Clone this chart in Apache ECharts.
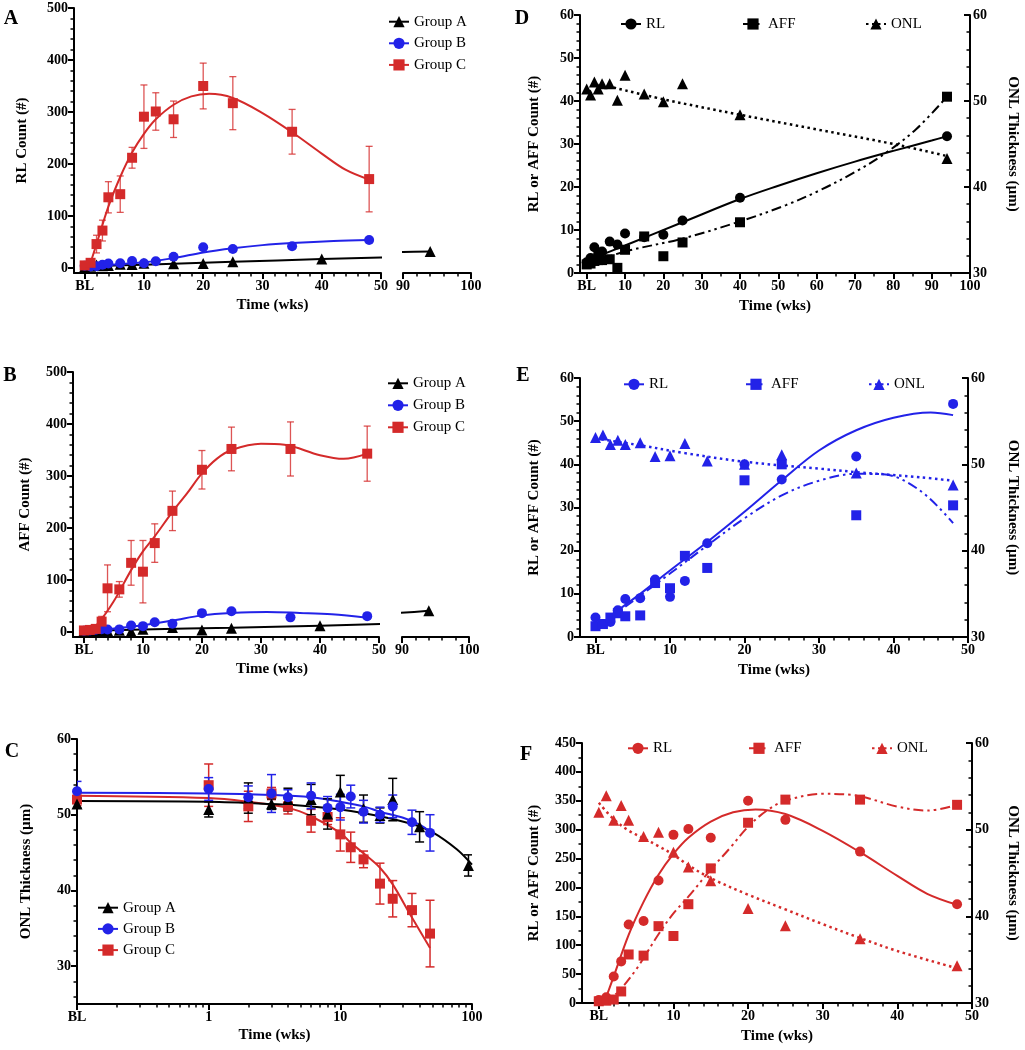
<!DOCTYPE html>
<html><head><meta charset="utf-8">
<script src="https://cdn.jsdelivr.net/npm/echarts@6/dist/echarts.min.js"></script>
<style>html,body{margin:0;padding:0;background:#fff}#c{width:1025px;height:1050px}</style>
</head><body><div id="c"></div>
<script>
// ---------------- DATA ----------------
const timesBC = [0, 1, 2, 3, 4, 6, 8, 10, 12, 15, 20, 25, 35, 48];
const timesA  = [0, 1, 2, 3, 4, 6, 8, 10, 15, 20, 25, 40, 94];
const BL_LOG = 0.1; // baseline position on the log axis

// Group A (black)
const rlA     = [2.5, 3.5, 6.0, 4.5, 5.0, 7.3, 6.6, 9.2, 8.3, 8.9, 12.2, 17.5, 31.8];
const affA    = [2.0, 2.2, 2.8, 3.0, 3.0, 3.2, 1.2, 5.4, 8.5, 3.9, 7.1, 11.8, 41.0];
const onlA    = [51.4, 50.7, 52.2, 51.4, 52.0, 52.0, 50.1, 53.0, 50.8, 49.9, 52.0, 48.4, 43.3];
const onlAErr = [0.5, 1.0, 2.0, 0.7, 1.5, 2.0, 2.0, 2.2, 1.8, 1.0, 2.8, 2.0, 1.4];
// Group B (blue)
const rlB     = [4.5, 3.0, 3.5, 6.2, 8.8, 9.0, 13.3, 9.3, 13.0, 21.7, 40.0, 36.5, 41.8, 54.0];
const affB    = [2.5, 3.0, 4.5, 5.5, 4.8, 5.0, 12.5, 11.3, 18.8, 16.0, 36.3, 40.0, 28.2, 30.5];
const onlB    = [53.1, 53.4, 52.3, 52.8, 52.3, 52.5, 50.9, 51.0, 52.4, 50.4, 50.0, 51.1, 49.0, 47.6];
const onlBErr = [1.3, 1.5, 1.5, 2.5, 1.0, 1.7, 1.5, 1.7, 1.5, 1.5, 1.0, 1.5, 1.6, 2.4];
// Group C (red)
const rlC     = [5, 10, 46, 72, 136, 142, 212, 291, 301, 286, 350, 317, 262, 171];
const rlCErr  = [3, 5, 17, 20, 30, 35, 20, 61, 36, 35, 44, 51, 43, 63];
const affC    = [3, 4, 6, 20, 84, 82, 133, 116, 171, 233, 312, 352, 352, 343];
const affCErr = [2, 3, 5, 10, 45, 15, 43, 60, 37, 38, 37, 42, 52, 53];
const onlC    = [52.0, 53.9, 51.1, 52.8, 51.1, 49.2, 49.7, 47.4, 45.7, 44.1, 40.9, 38.9, 37.4, 34.3];
const onlCErr = [0.8, 2.8, 2.0, 0.8, 1.0, 1.5, 1.0, 2.2, 2.0, 1.1, 2.7, 2.4, 2.2, 4.4];

// Fitted curves ([time, value])
const fitRL_A   = [[1,3.2],[10,6.4],[25,11.8],[40,17.2],[50,20.3],[60,23.2],[70,25.9],[80,28.4],[90,30.8],[94,31.8]];
const fitAFF_A  = [[1,2.3],[10,5],[25,8],[40,12],[52,15.8],[61,19.3],[70,23.5],[78,27.9],[86,33.5],[94,41]];
const fitONL_A_D= [[4,51.9],[20,50.2],[40,48.4],[60,46.7],[80,45],[94,43.6]];
const fitRL_B_A = [[1,1],[4,6],[10,11],[15,19],[20,30],[25,38],[30,44],[35,48],[42,52],[48,54]];
const fitAFF_B_B= [[1,0],[4,5],[10,13],[15,22],[20,32],[25,36.6],[31,38.6],[36.6,36.6],[42,34],[48,27.6]];
const fitRL_C   = [[0.7,0],[2,46],[4,118],[6,175],[8,222],[10,258],[12,286],[15,314],[18,330],[21,335],[25,327],[30,298],[35,261],[40,220],[44,189],[48,170]];
const fitAFF_C  = [[0.7,0],[2.5,18],[5,58],[8,119],[10,155],[12,184],[15,231],[17.5,267],[20,305],[22.5,333],[25,350],[30,362],[34,360],[40,340],[44,333],[48,343]];
const fitONL_A_C= [[0.1,51.8],[1,51.7],[3,51.4],[6,51.1],[10,50.7],[20,49.8],[36,48.7],[50,47.7],[77,45.4],[100,43.4]];
const fitONL_B_C= [[0.1,52.9],[1,52.8],[3,52.6],[6,52.3],[10,51.7],[15,51.1],[20,50.4],[30,49.6],[40,48.7],[48,47.8]];
const fitONL_C_C= [[0.1,52.5],[1,52.2],[2,51.7],[4,50.9],[6,49.8],[10,47.6],[12,46.3],[15,44.9],[20,43.0],[25,40.8],[34,36.8],[48,32.4]];
const fitRL_B_E = [[3,6.2],[6,10],[10,15.4],[15,22],[20,29],[25,36.3],[30,43.2],[35,47.9],[40,50.8],[45,52],[48,51.4]];
const fitAFF_B_E= [[4,7],[10,14.7],[15,21.2],[20,27.5],[25,32.8],[30,36.2],[35,37.8],[38.6,37.7],[43.5,34],[48,26.4]];
const fitONL_B_E= [[0,53.0],[6,52.2],[12,51.3],[20,50.3],[30,49.5],[35,49.1],[43.6,48.5],[48,48.1]];
const fitONL_C_F= [[0,53.1],[2,51.2],[4,49.9],[6,49.0],[8,48.1],[10,47.1],[12,45.9],[15,44.4],[20,42.5],[25,40.8],[30,39.1],[35,37.5],[40,36],[48,34]];

// Tick labels
const ticksTime50  = [0, 10, 20, 30, 40, 50];
const ticksBreak   = [90, 100];
const ticksTime100 = [0, 10, 20, 30, 40, 50, 60, 70, 80, 90, 100];
const ticksCount500= [0, 100, 200, 300, 400, 500];
const ticksCount60 = [0, 10, 20, 30, 40, 50, 60];
const ticksCount450= [0, 50, 100, 150, 200, 250, 300, 350, 400, 450];
const ticksONL     = [30, 40, 50, 60];
const ticksLog     = [0.1, 1, 10, 100];
const minorLog     = [0.2,0.3,0.4,0.5,0.6,0.7,0.8,0.9,2,3,4,5,6,7,8,9,20,30,40,50,60,70,80,90];
const BL_LABEL = 'BL';

// ---------------- BUILD ----------------
const FONT = '"Liberation Serif","Times New Roman",Times,serif';
const RED = '#d42a2a', BLUE = '#2222e8', BLACK = '#000000';
const RED_BAR = 'rgba(212,42,42,0.8)';
const grids = [], xAxes = [], yAxes = [], series = [], legends = [], graphics = [];

const zip = (xs, ys) => xs.map((x, i) => [x, ys[i]]);
const errs = (xs, ys, es) => xs.map((x, i) => [x, ys[i] - es[i], ys[i] + es[i]]);
const toLog = xs => xs.map(t => t === 0 ? BL_LOG : t);
function minors(lo, hi, step, majors) {
  const r = [];
  for (let v = lo; v <= hi + 1e-9; v += step) {
    const w = +v.toFixed(6);
    if (!majors.some(m => Math.abs(m - w) < 1e-9)) r.push(w);
  }
  return r;
}
const fmtBL = v => (Math.abs(v) < 1e-9 ? BL_LABEL : String(v));
const fmtLog = v => (Math.abs(v - BL_LOG) < 1e-9 ? BL_LABEL : String(Math.round(v)));

function grid(left, top, width, height) {
  grids.push({left, top, width, height, containLabel: false, outerBoundsMode: 'none'});
  return grids.length - 1;
}
function axisPair(list, o) {
  const base = {type: o.type || 'value', gridIndex: o.grid, min: o.min, max: o.max, position: o.position,
    splitLine: {show: false}, minorTick: {show: false}, silent: true};
  if (o.type === 'log') base.logBase = 10;
  const main = Object.assign({}, base, {
    axisLine: {show: true, onZero: false, lineStyle: {color: '#000', width: 2}},
    axisTick: {show: true, inside: !!o.inside, length: 6, customValues: o.major, lineStyle: {color: '#000', width: 2}},
    axisLabel: {show: true, customValues: o.major, margin: o.margin, formatter: o.fmt || (v => String(v)),
      color: '#000', fontFamily: FONT, fontWeight: 'bold', fontSize: 14, hideOverlap: false}
  });
  if (o.name) {
    main.name = o.name; main.nameLocation = 'middle'; main.nameGap = o.nameGap;
    if (o.nameRotate !== undefined) main.nameRotate = o.nameRotate;
    main.nameTextStyle = {color: '#000', fontFamily: FONT, fontWeight: 'bold', fontSize: 15};
  }
  list.push(main);
  const idx = list.length - 1;
  list.push(Object.assign({}, base, {
    axisLine: {show: false, onZero: false},
    axisTick: {show: true, inside: !!o.inside, length: 3.5, customValues: o.minor, lineStyle: {color: '#000', width: 1.5}},
    axisLabel: {show: false}
  }));
  return idx;
}
function hiddenAxis(list, o) {
  list.push({type: 'value', gridIndex: o.grid, min: o.min, max: o.max, show: false, position: o.position || 'left'});
  return list.length - 1;
}
function curve(name, xi, yi, data, color, dash, symbol, width) {
  series.push({type: 'line', name: name || undefined, xAxisIndex: xi, yAxisIndex: yi, data,
    smooth: 0.35, showSymbol: false, symbol, symbolSize: 10, clip: true, silent: true, z: 2,
    lineStyle: {color, width: width || 2, type: dash || 'solid'}, itemStyle: {color}});
}
function scatter(xi, yi, data, color, symbol, size) {
  series.push({type: 'scatter', xAxisIndex: xi, yAxisIndex: yi, data, symbol, symbolSize: size || 10,
    clip: true, silent: true, z: 4, itemStyle: {color, opacity: 1}});
}
function errbars(xi, yi, data, color, width, cap) {
  series.push({type: 'custom', xAxisIndex: xi, yAxisIndex: yi, data, silent: true, z: 3, clip: true,
    encode: {x: 0, y: [1, 2]},
    renderItem(params, api) {
      const x = api.value(0), lo = api.value(1), hi = api.value(2);
      const a = api.coord([x, hi]), b = api.coord([x, lo]);
      const st = {stroke: color, lineWidth: width, fill: null};
      return {type: 'group', children: [
        {type: 'line', shape: {x1: a[0], y1: a[1], x2: b[0], y2: b[1]}, style: st},
        {type: 'line', shape: {x1: a[0] - cap, y1: a[1], x2: a[0] + cap, y2: a[1]}, style: st},
        {type: 'line', shape: {x1: b[0] - cap, y1: b[1], x2: b[0] + cap, y2: b[1]}, style: st}
      ]};
    }});
}
function legendBox(left, cy, names, orient, gap) {
  legends.push({left, top: cy - 7.5, orient: orient || 'horizontal', itemGap: gap || 10, padding: 0,
    itemWidth: 20, itemHeight: 14, data: names, selectedMode: false,
    formatter: n => n.split(':')[1],
    textStyle: {color: '#000', fontFamily: FONT, fontSize: 15, lineHeight: 15}});
}
function text(str, x, y, font, rot) {
  graphics.push({type: 'text', x, y, rotation: rot || 0, silent: true,
    style: {text: str, font, fill: '#000', align: 'center', verticalAlign: 'middle', textAlign: 'center', textVerticalAlign: 'middle'}});
}
const DOT = [2.5, 3.5], DASHDOT2 = [10, 4, 2.5, 4, 2.5, 4];

// ---- Panel A ----
const gA1 = grid(74, 8, 307, 265), gA2 = grid(403, 8, 68, 265);
const axA = axisPair(xAxes, {grid: gA1, min: -1.8, max: 50, position: 'bottom', major: ticksTime50, minor: minors(0, 50, 2, ticksTime50), fmt: fmtBL, margin: 6});
const ayA = axisPair(yAxes, {grid: gA1, min: -9.6, max: 500, position: 'left', major: ticksCount500, minor: minors(0, 500, 20, ticksCount500), margin: 6, name: 'RL Count (#)', nameGap: 44});
const axA2 = axisPair(xAxes, {grid: gA2, min: 90, max: 100, position: 'bottom', major: ticksBreak, minor: minors(90, 100, 2, ticksBreak), margin: 6});
const ayA2 = hiddenAxis(yAxes, {grid: gA2, min: -9.6, max: 500});
curve('A:Group A', axA, ayA, fitRL_A, BLACK, 'solid', 'triangle');
curve(null, axA2, ayA2, fitRL_A, BLACK, 'solid', 'triangle');
scatter(axA, ayA, zip(timesA, rlA), BLACK, 'triangle', 11);
scatter(axA2, ayA2, zip(timesA, rlA), BLACK, 'triangle', 11);
curve('A:Group B', axA, ayA, fitRL_B_A, BLUE, 'solid', 'circle');
scatter(axA, ayA, zip(timesBC, rlB), BLUE, 'circle', 10);
curve('A:Group C', axA, ayA, fitRL_C, RED, 'solid', 'rect');
errbars(axA, ayA, errs(timesBC, rlC, rlCErr), RED_BAR, 1.3, 3.5);
scatter(axA, ayA, zip(timesBC, rlC), RED, 'rect', 10);
legendBox(388, 21.7, ['A:Group A', 'A:Group B', 'A:Group C'], 'vertical', 6.6);
text('Time (wks)', 272.5, 305, 'bold 15px ' + FONT);
text('A', 11, 19, 'bold 20px ' + FONT);

// ---- Panel B ----
const gB1 = grid(73, 372, 306, 265), gB2 = grid(402, 372, 67, 265);
const axB = axisPair(xAxes, {grid: gB1, min: -1.85, max: 50, position: 'bottom', major: ticksTime50, minor: minors(0, 50, 2, ticksTime50), fmt: fmtBL, margin: 6});
const ayB = axisPair(yAxes, {grid: gB1, min: -9.6, max: 500, position: 'left', major: ticksCount500, minor: minors(0, 500, 20, ticksCount500), margin: 6, name: 'AFF Count (#)', nameGap: 40});
const axB2 = axisPair(xAxes, {grid: gB2, min: 90, max: 100, position: 'bottom', major: ticksBreak, minor: minors(90, 100, 2, ticksBreak), margin: 6});
const ayB2 = hiddenAxis(yAxes, {grid: gB2, min: -9.6, max: 500});
curve('B:Group A', axB, ayB, fitAFF_A, BLACK, 'solid', 'triangle');
curve(null, axB2, ayB2, fitAFF_A, BLACK, 'solid', 'triangle');
scatter(axB, ayB, zip(timesA, affA), BLACK, 'triangle', 11);
scatter(axB2, ayB2, zip(timesA, affA), BLACK, 'triangle', 11);
curve('B:Group B', axB, ayB, fitAFF_B_B, BLUE, 'solid', 'circle');
scatter(axB, ayB, zip(timesBC, affB), BLUE, 'circle', 10);
curve('B:Group C', axB, ayB, fitAFF_C, RED, 'solid', 'rect');
errbars(axB, ayB, errs(timesBC, affC, affCErr), RED_BAR, 1.3, 3.5);
scatter(axB, ayB, zip(timesBC, affC), RED, 'rect', 10);
legendBox(387, 383.3, ['B:Group A', 'B:Group B', 'B:Group C'], 'vertical', 7);
text('Time (wks)', 272, 669, 'bold 15px ' + FONT);
text('B', 10, 376, 'bold 20px ' + FONT);

// ---- Panel C ----
const gC = grid(77, 739, 395, 265);
const axC = axisPair(xAxes, {grid: gC, type: 'log', min: 0.1, max: 100, position: 'bottom', major: ticksLog, minor: minorLog, fmt: fmtLog, margin: 6, name: 'Time (wks)', nameGap: 24});
const ayC = axisPair(yAxes, {grid: gC, min: 25, max: 60, position: 'left', major: ticksONL, minor: minors(26, 60, 2, ticksONL), margin: 6, name: 'ONL Thickness (\u00b5m)', nameGap: 43});
curve(null, axC, ayC, fitONL_C_C, RED, 'solid', 'rect');
errbars(axC, ayC, errs(toLog(timesBC), onlC, onlCErr), RED, 1.5, 4.5);
scatter(axC, ayC, zip(toLog(timesBC), onlC), RED, 'rect', 10);
curve(null, axC, ayC, fitONL_A_C, BLACK, 'solid', 'triangle');
errbars(axC, ayC, errs(toLog(timesA), onlA, onlAErr), BLACK, 1.5, 4.5);
scatter(axC, ayC, zip(toLog(timesA), onlA), BLACK, 'triangle', 11);
curve(null, axC, ayC, fitONL_B_C, BLUE, 'solid', 'circle');
errbars(axC, ayC, errs(toLog(timesBC), onlB, onlBErr), BLUE, 1.5, 4.5);
scatter(axC, ayC, zip(toLog(timesBC), onlB), BLUE, 'circle', 10);
// legend-only series (same styles)
series.push({type: 'line', name: 'C:Group A', xAxisIndex: axC, yAxisIndex: ayC, data: [], symbol: 'triangle', lineStyle: {color: BLACK, width: 2}, itemStyle: {color: BLACK}});
series.push({type: 'line', name: 'C:Group B', xAxisIndex: axC, yAxisIndex: ayC, data: [], symbol: 'circle', lineStyle: {color: BLUE, width: 2}, itemStyle: {color: BLUE}});
series.push({type: 'line', name: 'C:Group C', xAxisIndex: axC, yAxisIndex: ayC, data: [], symbol: 'rect', lineStyle: {color: RED, width: 2}, itemStyle: {color: RED}});
legendBox(97, 907.7, ['C:Group A', 'C:Group B', 'C:Group C'], 'vertical', 6.2);
text('C', 12, 752, 'bold 20px ' + FONT);

// ---- Panel D ----
const gD = grid(580, 15, 390, 258);
const axD = axisPair(xAxes, {grid: gD, min: -1.75, max: 100, position: 'bottom', major: ticksTime100, minor: minors(0, 100, 5, ticksTime100), fmt: fmtBL, margin: 6, name: 'Time (wks)', nameGap: 26});
const ayD = axisPair(yAxes, {grid: gD, min: 0, max: 60, position: 'left', major: ticksCount60, minor: minors(0, 60, 2, ticksCount60), margin: 6, name: 'RL or AFF Count (#)', nameGap: 38});
const ayD2 = axisPair(yAxes, {grid: gD, min: 30, max: 60, position: 'right', major: ticksONL, minor: minors(30, 60, 2, ticksONL), margin: 3, inside: true, name: 'ONL Thickness (\u00b5m)', nameGap: 35, nameRotate: -90});
curve('D:RL', axD, ayD, fitRL_A, BLACK, 'solid', 'circle');
curve('D:AFF', axD, ayD, fitAFF_A, BLACK, DASHDOT2, 'rect');
curve('D:ONL', axD, ayD2, fitONL_A_D, BLACK, DOT, 'triangle', 2.5);
scatter(axD, ayD, zip(timesA, rlA), BLACK, 'circle', 10);
scatter(axD, ayD, zip(timesA, affA), BLACK, 'rect', 10);
scatter(axD, ayD2, zip(timesA, onlA), BLACK, 'triangle', 11);
legendBox(620, 24, ['D:RL']); legendBox(742, 24, ['D:AFF']); legendBox(865, 24, ['D:ONL']);
text('D', 522, 19, 'bold 20px ' + FONT);

// ---- Panel E ----
const gE = grid(580, 378, 388, 259);
const axE = axisPair(xAxes, {grid: gE, min: -2.08, max: 50, position: 'bottom', major: ticksTime50, minor: minors(0, 50, 2, ticksTime50), fmt: fmtBL, margin: 6, name: 'Time (wks)', nameGap: 26});
const ayE = axisPair(yAxes, {grid: gE, min: 0, max: 60, position: 'left', major: ticksCount60, minor: minors(0, 60, 2, ticksCount60), margin: 6, name: 'RL or AFF Count (#)', nameGap: 38});
const ayE2 = axisPair(yAxes, {grid: gE, min: 30, max: 60, position: 'right', major: ticksONL, minor: minors(30, 60, 2, ticksONL), margin: 3, inside: true, name: 'ONL Thickness (\u00b5m)', nameGap: 37, nameRotate: -90});
curve('E:RL', axE, ayE, fitRL_B_E, BLUE, 'solid', 'circle');
curve('E:AFF', axE, ayE, fitAFF_B_E, BLUE, DASHDOT2, 'rect');
curve('E:ONL', axE, ayE2, fitONL_B_E, BLUE, DOT, 'triangle', 2.5);
scatter(axE, ayE, zip(timesBC, rlB), BLUE, 'circle', 10);
scatter(axE, ayE, zip(timesBC, affB), BLUE, 'rect', 10);
scatter(axE, ayE2, zip(timesBC, onlB), BLUE, 'triangle', 11);
legendBox(623, 384.3, ['E:RL']); legendBox(745, 384.3, ['E:AFF']); legendBox(868, 384.3, ['E:ONL']);
text('E', 523, 376, 'bold 20px ' + FONT);

// ---- Panel F ----
const gF = grid(582, 743, 390, 260);
const axF = axisPair(xAxes, {grid: gF, min: -2.25, max: 50, position: 'bottom', major: ticksTime50, minor: minors(0, 50, 2, ticksTime50), fmt: fmtBL, margin: 6, name: 'Time (wks)', nameGap: 26});
const ayF = axisPair(yAxes, {grid: gF, min: 0, max: 450, position: 'left', major: ticksCount450, minor: minors(0, 450, 25, ticksCount450), margin: 6, name: 'RL or AFF Count (#)', nameGap: 40});
const ayF2 = axisPair(yAxes, {grid: gF, min: 30, max: 60, position: 'right', major: ticksONL, minor: minors(30, 60, 2, ticksONL), margin: 3, inside: true, name: 'ONL Thickness (\u00b5m)', nameGap: 33, nameRotate: -90});
curve('F:RL', axF, ayF, fitRL_C, RED, 'solid', 'circle');
curve('F:AFF', axF, ayF, fitAFF_C, RED, DASHDOT2, 'rect');
curve('F:ONL', axF, ayF2, fitONL_C_F, RED, DOT, 'triangle', 2.5);
scatter(axF, ayF, zip(timesBC, rlC), RED, 'circle', 10);
scatter(axF, ayF, zip(timesBC, affC), RED, 'rect', 10);
scatter(axF, ayF2, zip(timesBC, onlC), RED, 'triangle', 11);
legendBox(627, 748.3, ['F:RL']); legendBox(748, 748.3, ['F:AFF']); legendBox(871, 748.3, ['F:ONL']);
text('F', 526, 755, 'bold 20px ' + FONT);

const chart = echarts.init(document.getElementById('c'), null, {renderer: 'canvas'});
chart.setOption({
  animation: false, backgroundColor: '#fff',
  textStyle: {fontFamily: FONT},
  grid: grids, xAxis: xAxes, yAxis: yAxes, series, legend: legends, graphic: graphics,
  tooltip: {show: false}
});
</script></body></html>
